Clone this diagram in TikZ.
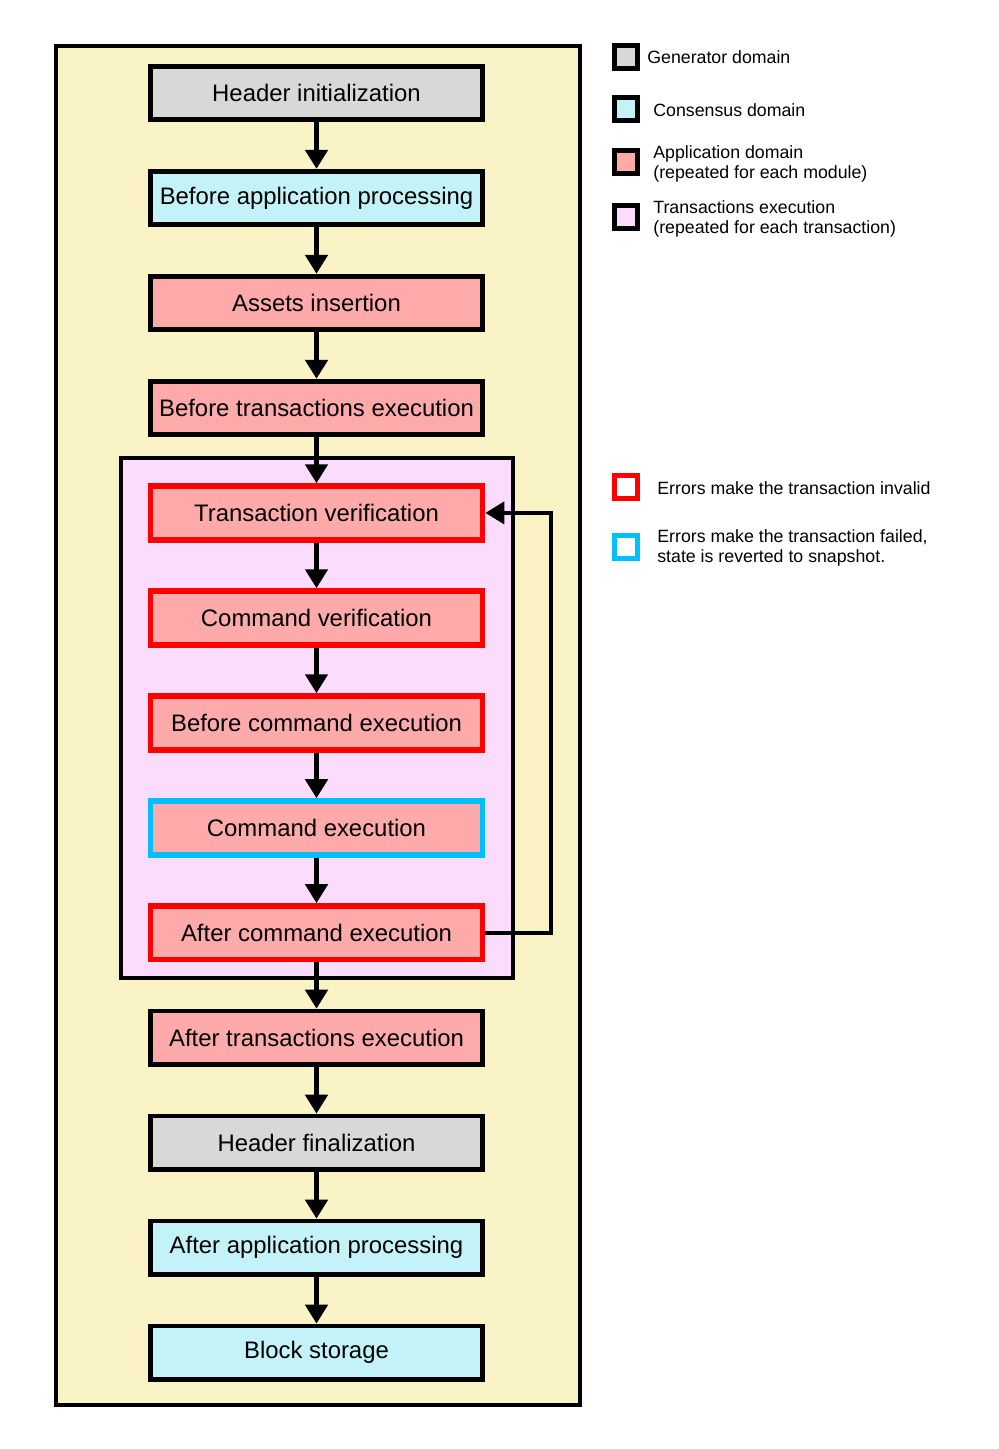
\documentclass[tikz,border=0pt]{standalone}
\usepackage{fontspec}
\setmainfont{Liberation Sans}
\usetikzlibrary{arrows.meta,shapes,positioning}
\definecolor{gendom}{HTML}{D8D8D8}
\definecolor{consdom}{HTML}{C3F2F8}
\definecolor{appdom}{HTML}{FFAAAA}
\definecolor{txbg}{HTML}{FCDCFC}
\definecolor{outerbg}{HTML}{F9F3C5}
\definecolor{errred}{HTML}{FF0000}
\definecolor{errblue}{HTML}{00BFFF}
\tikzstyle{stage} = [draw, line width=2.7pt, minimum width=6.64cm, minimum height=1.07cm, inner sep=0pt, font=\fontsize{13.6}{16}\selectfont]
\tikzstyle{gen} = [stage, fill=gendom]
\tikzstyle{cons} = [stage, fill=consdom]
\tikzstyle{app} = [stage, fill=appdom]
\tikzstyle{invalid} = [draw=errred, line width=3.3pt]
\tikzstyle{failed} = [draw=errblue, line width=3.3pt]
\tikzstyle{key} = [draw, line width=2.8pt, minimum size=0.46cm, inner sep=0pt]
\tikzstyle{keytext} = [anchor=west, align=left, inner sep=0pt, font=\fontsize{10.1}{11.8}\selectfont]
\tikzstyle{flow} = [->, line width=3pt]

\begin{document}
\begin{tikzpicture}[x=0.02cm, y=-0.02cm, node distance=2.1cm, >={Triangle[width=12.5pt,length=10.8pt]}]

    \useasboundingbox (0,0) rectangle (999,1449);
    % block frame and the per-transaction frame
    \draw [fill=outerbg, line width=2.3pt] (56,46) rectangle (580,1405);
    \draw [fill=txbg, line width=2.3pt] (121,458) rectangle (513,978);

    \node [gen] (hinit) at (316.5,93) {Header initialization};
    \node [cons, below of=hinit] (bap) {Before application processing};
    \node [app, below of=bap] (assets) {Assets insertion};
    \node [app, below of=assets] (bte) {Before transactions execution};
    \node [app, invalid, below of=bte] (txver) {Transaction verification};
    \node [app, invalid, below of=txver] (cmdver) {Command verification};
    \node [app, invalid, below of=cmdver] (bce) {Before command execution};
    \node [app, failed, below of=bce] (cmdexec) {Command execution};
    \node [app, invalid, below of=cmdexec] (ace) {After command execution};
    \node [app, below of=ace] (ate) {After transactions execution};
    \node [gen, below of=ate] (hfin) {Header finalization};
    \node [cons, below of=hfin] (aap) {After application processing};
    \node [cons, below of=aap] (store) {Block storage};

    \draw [flow] (hinit) -- (bap);
    \draw [flow] (bap) -- (assets);
    \draw [flow] (assets) -- (bte);
    \draw [flow] (bte) -- (txver);
    \draw [flow] (txver) -- (cmdver);
    \draw [flow] (cmdver) -- (bce);
    \draw [flow] (bce) -- (cmdexec);
    \draw [flow] (cmdexec) -- (ace);
    \draw [flow] (ace) -- (ate);
    \draw [flow] (ate) -- (hfin);
    \draw [flow] (hfin) -- (aap);
    \draw [flow] (aap) -- (store);
    % next transaction
    \draw [->, line width=2.3pt] (ace.east) -- ++(66,0) |- (txver.east);

    % legend
    \node [key, fill=gendom] (kgen) at (626,57) {};
    \node [keytext] (tgen) at (647,57) {Generator domain};
    \node [key, fill=consdom] (kcons) at (626,109) {};
    \node [keytext] (tcons) at (653,110) {Consensus domain};
    \node [key, fill=appdom] (kapp) at (626,162) {};
    \node [keytext] (tapp) at (653,164) {Application domain\\(repeated for each module)};
    \node [key, fill=txbg] (ktx) at (626,217) {};
    \node [keytext] (ttx) at (653,219) {Transactions execution\\(repeated for each transaction)};
    \node [key, draw=errred, fill=white] (kinv) at (626,487) {};
    \node [keytext] (tinv) at (657,488) {Errors make the transaction invalid};
    \node [key, draw=errblue, fill=white] (kfail) at (626,547) {};
    \node [keytext] (tfail) at (657,548) {Errors make the transaction failed,\\state is reverted to snapshot.};

\end{tikzpicture}
\end{document}
